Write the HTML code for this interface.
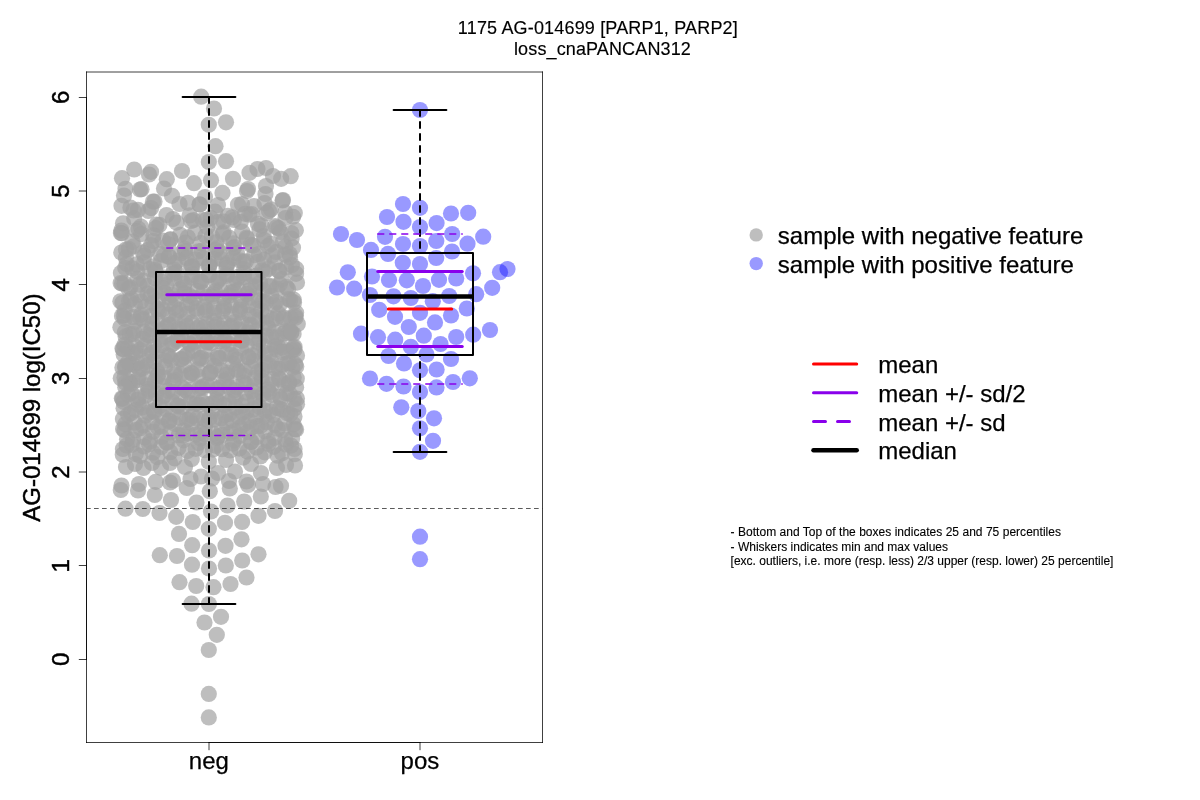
<!DOCTYPE html>
<html lang="en"><head><meta charset="utf-8"><title>1175 AG-014699 [PARP1, PARP2] loss_cnaPANCAN312</title>
<style>html,body{margin:0;padding:0;background:#fff;width:1200px;height:800px;overflow:hidden}svg{display:block}text{font-family:"Liberation Sans",Arial,Helvetica,sans-serif;fill:#000;stroke:#000;stroke-width:0.25px}.t18 text{stroke-width:0.15px}.t12 text{stroke-width:0.12px}.rot{stroke-width:0.45px}.g circle{fill:rgb(161,161,161);fill-opacity:0.69}.b circle{fill:rgb(0,0,255);fill-opacity:0.4}.ln{fill:none;stroke-linecap:round;stroke-linejoin:round}</style></head><body>
<svg width="1200" height="800" viewBox="0 0 1200 800">
<rect width="1200" height="800" fill="#fff"/>
<defs><clipPath id="pc"><rect x="86.4" y="72.0" width="456.0" height="670.4"/></clipPath></defs>
<g class="g">
<circle cx="208.8" cy="717.4" r="8.1"/>
<circle cx="208.8" cy="693.9" r="8.1"/>
<circle cx="208.8" cy="650" r="8.1"/>
<circle cx="216.8" cy="634.8" r="8.1"/>
<circle cx="204.5" cy="622.5" r="8.1"/>
<circle cx="221" cy="616.8" r="8.1"/>
<circle cx="191.5" cy="603.7" r="8.1"/>
<circle cx="208.9" cy="604" r="8.1"/>
<circle cx="179.5" cy="582.2" r="8.1"/>
<circle cx="196.2" cy="586" r="8.1"/>
<circle cx="213.5" cy="587.2" r="8.1"/>
<circle cx="230.5" cy="584" r="8.1"/>
<circle cx="246.5" cy="577.5" r="8.1"/>
<circle cx="192" cy="564.7" r="8.1"/>
<circle cx="209" cy="568.5" r="8.1"/>
<circle cx="225.8" cy="565.5" r="8.1"/>
<circle cx="242.2" cy="560.5" r="8.1"/>
<circle cx="258.5" cy="554.3" r="8.1"/>
<circle cx="159.8" cy="555.2" r="8.1"/>
<circle cx="177" cy="556" r="8.1"/>
<circle cx="192.2" cy="545.2" r="8.1"/>
<circle cx="209" cy="550.5" r="8.1"/>
<circle cx="225.5" cy="545.8" r="8.1"/>
<circle cx="241.5" cy="539.3" r="8.1"/>
<circle cx="179" cy="533.9" r="8.1"/>
<circle cx="208.8" cy="528.8" r="8.1"/>
<circle cx="192.8" cy="522" r="8.1"/>
<circle cx="225" cy="522.8" r="8.1"/>
<circle cx="242.1" cy="521.9" r="8.1"/>
<circle cx="258.5" cy="515.8" r="8.1"/>
<circle cx="275" cy="511" r="8.1"/>
<circle cx="289.2" cy="500.8" r="8.1"/>
<circle cx="260.8" cy="496.5" r="8.1"/>
<circle cx="244.2" cy="501.5" r="8.1"/>
<circle cx="227.5" cy="505.5" r="8.1"/>
<circle cx="211" cy="511.5" r="8.1"/>
<circle cx="196.5" cy="502.5" r="8.1"/>
<circle cx="176.2" cy="516.8" r="8.1"/>
<circle cx="159.5" cy="513" r="8.1"/>
<circle cx="142.8" cy="509" r="8.1"/>
<circle cx="125.5" cy="508.7" r="8.1"/>
<circle cx="171" cy="500" r="8.1"/>
<circle cx="154.8" cy="495" r="8.1"/>
<circle cx="209.8" cy="491.2" r="8.1"/>
<circle cx="121.5" cy="485.5" r="8.1"/>
<circle cx="120.8" cy="490" r="8.1"/>
<circle cx="139" cy="484" r="8.1"/>
<circle cx="138" cy="490.5" r="8.1"/>
<circle cx="155.8" cy="481.8" r="8.1"/>
<circle cx="173" cy="480.5" r="8.1"/>
<circle cx="170" cy="482.5" r="8.1"/>
<circle cx="186.8" cy="488" r="8.1"/>
<circle cx="190.5" cy="479" r="8.1"/>
<circle cx="201" cy="476.5" r="8.1"/>
<circle cx="212" cy="478.5" r="8.1"/>
<circle cx="229.8" cy="488.5" r="8.1"/>
<circle cx="229" cy="481" r="8.1"/>
<circle cx="248" cy="485" r="8.1"/>
<circle cx="246.5" cy="481.5" r="8.1"/>
<circle cx="263" cy="484" r="8.1"/>
<circle cx="281" cy="485.8" r="8.1"/>
<circle cx="275.5" cy="487" r="8.1"/>
<circle cx="126" cy="467" r="8.1"/>
<circle cx="143.5" cy="468" r="8.1"/>
<circle cx="161" cy="467.8" r="8.1"/>
<circle cx="135" cy="464" r="8.1"/>
<circle cx="185" cy="467" r="8.1"/>
<circle cx="170" cy="463" r="8.1"/>
<circle cx="152" cy="463" r="8.1"/>
<circle cx="261" cy="473" r="8.1"/>
<circle cx="235" cy="471.5" r="8.1"/>
<circle cx="218" cy="473" r="8.1"/>
<circle cx="295" cy="465.5" r="8.1"/>
<circle cx="286" cy="465" r="8.1"/>
<circle cx="277" cy="468" r="8.1"/>
<circle cx="251" cy="464" r="8.1"/>
<circle cx="199.42" cy="204.43" r="8.1"/>
<circle cx="253.91" cy="206.08" r="8.1"/>
<circle cx="130.39" cy="207.6" r="8.1"/>
<circle cx="151.12" cy="208.09" r="8.1"/>
<circle cx="270.88" cy="209.36" r="8.1"/>
<circle cx="148.4" cy="211.02" r="8.1"/>
<circle cx="215.09" cy="211.72" r="8.1"/>
<circle cx="285.2" cy="212.36" r="8.1"/>
<circle cx="266.58" cy="213.19" r="8.1"/>
<circle cx="245.08" cy="213.84" r="8.1"/>
<circle cx="249.36" cy="214.65" r="8.1"/>
<circle cx="189.57" cy="215.43" r="8.1"/>
<circle cx="227.9" cy="215.75" r="8.1"/>
<circle cx="293.03" cy="216.77" r="8.1"/>
<circle cx="232.29" cy="217.34" r="8.1"/>
<circle cx="210.77" cy="218" r="8.1"/>
<circle cx="134.2" cy="218.39" r="8.1"/>
<circle cx="172.94" cy="219.05" r="8.1"/>
<circle cx="206.27" cy="219.85" r="8.1"/>
<circle cx="193.61" cy="220.06" r="8.1"/>
<circle cx="191.06" cy="221.12" r="8.1"/>
<circle cx="223.47" cy="221.52" r="8.1"/>
<circle cx="240.74" cy="222.02" r="8.1"/>
<circle cx="176.51" cy="222.53" r="8.1"/>
<circle cx="123.05" cy="223.25" r="8.1"/>
<circle cx="257.93" cy="223.85" r="8.1"/>
<circle cx="156.54" cy="224.5" r="8.1"/>
<circle cx="159.39" cy="224.91" r="8.1"/>
<circle cx="261.59" cy="225.6" r="8.1"/>
<circle cx="275.06" cy="226.13" r="8.1"/>
<circle cx="140.84" cy="226.56" r="8.1"/>
<circle cx="207.26" cy="227.13" r="8.1"/>
<circle cx="276.62" cy="227.35" r="8.1"/>
<circle cx="155.81" cy="228.2" r="8.1"/>
<circle cx="278.65" cy="228.34" r="8.1"/>
<circle cx="138.54" cy="228.96" r="8.1"/>
<circle cx="259.46" cy="229.44" r="8.1"/>
<circle cx="295.83" cy="230.2" r="8.1"/>
<circle cx="121.34" cy="230.55" r="8.1"/>
<circle cx="136.69" cy="231.12" r="8.1"/>
<circle cx="242.19" cy="231.7" r="8.1"/>
<circle cx="280.52" cy="232" r="8.1"/>
<circle cx="223.73" cy="232.35" r="8.1"/>
<circle cx="194.91" cy="232.95" r="8.1"/>
<circle cx="121.78" cy="233.27" r="8.1"/>
<circle cx="222.85" cy="233.91" r="8.1"/>
<circle cx="141.3" cy="234.14" r="8.1"/>
<circle cx="180.15" cy="234.75" r="8.1"/>
<circle cx="153.42" cy="235.42" r="8.1"/>
<circle cx="205.66" cy="235.73" r="8.1"/>
<circle cx="263.76" cy="236.23" r="8.1"/>
<circle cx="211.78" cy="236.68" r="8.1"/>
<circle cx="187.82" cy="237.28" r="8.1"/>
<circle cx="246.53" cy="237.49" r="8.1"/>
<circle cx="229.32" cy="237.82" r="8.1"/>
<circle cx="291.58" cy="238.63" r="8.1"/>
<circle cx="247.03" cy="238.85" r="8.1"/>
<circle cx="170.46" cy="239.23" r="8.1"/>
<circle cx="170.21" cy="239.53" r="8.1"/>
<circle cx="264.25" cy="240.2" r="8.1"/>
<circle cx="162.76" cy="240.62" r="8.1"/>
<circle cx="153.27" cy="241.07" r="8.1"/>
<circle cx="282.88" cy="241.54" r="8.1"/>
<circle cx="132.43" cy="241.65" r="8.1"/>
<circle cx="216.29" cy="242.4" r="8.1"/>
<circle cx="185.49" cy="242.62" r="8.1"/>
<circle cx="200.66" cy="243.17" r="8.1"/>
<circle cx="233.53" cy="243.47" r="8.1"/>
<circle cx="270.82" cy="243.93" r="8.1"/>
<circle cx="168.29" cy="244.27" r="8.1"/>
<circle cx="250.76" cy="244.85" r="8.1"/>
<circle cx="151.04" cy="245.24" r="8.1"/>
<circle cx="253.12" cy="245.51" r="8.1"/>
<circle cx="267.99" cy="246.11" r="8.1"/>
<circle cx="133.79" cy="246.27" r="8.1"/>
<circle cx="285.26" cy="246.86" r="8.1"/>
<circle cx="234.39" cy="247.12" r="8.1"/>
<circle cx="292.97" cy="247.72" r="8.1"/>
<circle cx="232.94" cy="248.16" r="8.1"/>
<circle cx="217.15" cy="248.33" r="8.1"/>
<circle cx="184.68" cy="248.97" r="8.1"/>
<circle cx="128.8" cy="249.06" r="8.1"/>
<circle cx="125.92" cy="249.56" r="8.1"/>
<circle cx="215.77" cy="250.09" r="8.1"/>
<circle cx="147.65" cy="250.21" r="8.1"/>
<circle cx="201.85" cy="250.88" r="8.1"/>
<circle cx="185.22" cy="251.27" r="8.1"/>
<circle cx="198.31" cy="251.36" r="8.1"/>
<circle cx="276.23" cy="252.01" r="8.1"/>
<circle cx="219.34" cy="252.22" r="8.1"/>
<circle cx="142.93" cy="252.62" r="8.1"/>
<circle cx="181.13" cy="253.21" r="8.1"/>
<circle cx="237.1" cy="253.25" r="8.1"/>
<circle cx="259.06" cy="253.95" r="8.1"/>
<circle cx="160.14" cy="254.15" r="8.1"/>
<circle cx="285.13" cy="254.66" r="8.1"/>
<circle cx="254.28" cy="255.04" r="8.1"/>
<circle cx="163.98" cy="255.33" r="8.1"/>
<circle cx="272.16" cy="255.57" r="8.1"/>
<circle cx="144.41" cy="255.9" r="8.1"/>
<circle cx="169.29" cy="256.41" r="8.1"/>
<circle cx="168.69" cy="256.85" r="8.1"/>
<circle cx="289.99" cy="257.28" r="8.1"/>
<circle cx="125.88" cy="257.64" r="8.1"/>
<circle cx="233.35" cy="257.98" r="8.1"/>
<circle cx="186.5" cy="258.04" r="8.1"/>
<circle cx="203.77" cy="258.41" r="8.1"/>
<circle cx="214.11" cy="258.98" r="8.1"/>
<circle cx="221.82" cy="259.25" r="8.1"/>
<circle cx="195.63" cy="259.67" r="8.1"/>
<circle cx="264.2" cy="259.89" r="8.1"/>
<circle cx="239.49" cy="260.34" r="8.1"/>
<circle cx="178.38" cy="260.61" r="8.1"/>
<circle cx="161.1" cy="261.04" r="8.1"/>
<circle cx="246.07" cy="261.29" r="8.1"/>
<circle cx="243.71" cy="261.89" r="8.1"/>
<circle cx="257.54" cy="262.2" r="8.1"/>
<circle cx="143.88" cy="262.49" r="8.1"/>
<circle cx="274.81" cy="262.61" r="8.1"/>
<circle cx="227.77" cy="263.08" r="8.1"/>
<circle cx="174.69" cy="263.47" r="8.1"/>
<circle cx="209.65" cy="263.9" r="8.1"/>
<circle cx="126.67" cy="264.01" r="8.1"/>
<circle cx="136.75" cy="264.4" r="8.1"/>
<circle cx="291.91" cy="265.09" r="8.1"/>
<circle cx="226.74" cy="265.13" r="8.1"/>
<circle cx="191.85" cy="265.52" r="8.1"/>
<circle cx="208.75" cy="265.88" r="8.1"/>
<circle cx="153.92" cy="266.32" r="8.1"/>
<circle cx="209.21" cy="266.52" r="8.1"/>
<circle cx="192.63" cy="266.88" r="8.1"/>
<circle cx="191.12" cy="267.42" r="8.1"/>
<circle cx="286.15" cy="267.51" r="8.1"/>
<circle cx="226.43" cy="267.98" r="8.1"/>
<circle cx="132.46" cy="268.47" r="8.1"/>
<circle cx="268.92" cy="268.83" r="8.1"/>
<circle cx="149.73" cy="269.07" r="8.1"/>
<circle cx="244.08" cy="269.44" r="8.1"/>
<circle cx="173.99" cy="269.73" r="8.1"/>
<circle cx="154.96" cy="270.06" r="8.1"/>
<circle cx="262.04" cy="270.48" r="8.1"/>
<circle cx="278.63" cy="270.67" r="8.1"/>
<circle cx="279.64" cy="271.14" r="8.1"/>
<circle cx="137.23" cy="271.62" r="8.1"/>
<circle cx="264.53" cy="271.99" r="8.1"/>
<circle cx="155.96" cy="272.12" r="8.1"/>
<circle cx="176.25" cy="272.39" r="8.1"/>
<circle cx="120.9" cy="272.94" r="8.1"/>
<circle cx="244.28" cy="273.33" r="8.1"/>
<circle cx="173.17" cy="273.63" r="8.1"/>
<circle cx="296.09" cy="273.78" r="8.1"/>
<circle cx="227.02" cy="274.06" r="8.1"/>
<circle cx="192.11" cy="274.65" r="8.1"/>
<circle cx="209.39" cy="274.75" r="8.1"/>
<circle cx="208.77" cy="275.41" r="8.1"/>
<circle cx="256.77" cy="275.49" r="8.1"/>
<circle cx="226.64" cy="275.84" r="8.1"/>
<circle cx="253.38" cy="276.39" r="8.1"/>
<circle cx="238.41" cy="276.78" r="8.1"/>
<circle cx="243.88" cy="277.05" r="8.1"/>
<circle cx="191.61" cy="277.43" r="8.1"/>
<circle cx="164.69" cy="277.71" r="8.1"/>
<circle cx="154.96" cy="278.1" r="8.1"/>
<circle cx="219.44" cy="278.22" r="8.1"/>
<circle cx="174.38" cy="278.74" r="8.1"/>
<circle cx="137.45" cy="278.91" r="8.1"/>
<circle cx="281.7" cy="279.28" r="8.1"/>
<circle cx="236.44" cy="279.77" r="8.1"/>
<circle cx="181.82" cy="280.02" r="8.1"/>
<circle cx="218.51" cy="280.32" r="8.1"/>
<circle cx="143.81" cy="280.58" r="8.1"/>
<circle cx="199.06" cy="281.22" r="8.1"/>
<circle cx="201.27" cy="281.46" r="8.1"/>
<circle cx="161.52" cy="281.84" r="8.1"/>
<circle cx="200.74" cy="282.13" r="8.1"/>
<circle cx="216.29" cy="282.43" r="8.1"/>
<circle cx="260.15" cy="282.86" r="8.1"/>
<circle cx="120.66" cy="282.99" r="8.1"/>
<circle cx="122.04" cy="283.58" r="8.1"/>
<circle cx="233.53" cy="283.74" r="8.1"/>
<circle cx="184.17" cy="283.96" r="8.1"/>
<circle cx="279.83" cy="284.33" r="8.1"/>
<circle cx="139.28" cy="284.71" r="8.1"/>
<circle cx="166.28" cy="285.2" r="8.1"/>
<circle cx="250.73" cy="285.39" r="8.1"/>
<circle cx="147.8" cy="285.79" r="8.1"/>
<circle cx="270.88" cy="286.11" r="8.1"/>
<circle cx="268.88" cy="286.35" r="8.1"/>
<circle cx="255.58" cy="286.77" r="8.1"/>
<circle cx="286.47" cy="287.02" r="8.1"/>
<circle cx="130.28" cy="287.44" r="8.1"/>
<circle cx="184.27" cy="287.7" r="8.1"/>
<circle cx="162.56" cy="288.13" r="8.1"/>
<circle cx="128.44" cy="288.49" r="8.1"/>
<circle cx="276.58" cy="288.93" r="8.1"/>
<circle cx="288.18" cy="289.14" r="8.1"/>
<circle cx="179.84" cy="289.57" r="8.1"/>
<circle cx="238.59" cy="289.9" r="8.1"/>
<circle cx="220.62" cy="290.11" r="8.1"/>
<circle cx="263.65" cy="290.39" r="8.1"/>
<circle cx="248.94" cy="290.9" r="8.1"/>
<circle cx="197.04" cy="291.21" r="8.1"/>
<circle cx="215.02" cy="291.36" r="8.1"/>
<circle cx="234.13" cy="291.69" r="8.1"/>
<circle cx="154.83" cy="292.24" r="8.1"/>
<circle cx="231.01" cy="292.39" r="8.1"/>
<circle cx="203.54" cy="292.72" r="8.1"/>
<circle cx="164.84" cy="293.15" r="8.1"/>
<circle cx="184.5" cy="293.34" r="8.1"/>
<circle cx="147.57" cy="293.72" r="8.1"/>
<circle cx="246.78" cy="294.13" r="8.1"/>
<circle cx="213.04" cy="294.27" r="8.1"/>
<circle cx="171.93" cy="294.72" r="8.1"/>
<circle cx="137.39" cy="295.03" r="8.1"/>
<circle cx="229.44" cy="295.57" r="8.1"/>
<circle cx="189.31" cy="295.76" r="8.1"/>
<circle cx="271.33" cy="296.03" r="8.1"/>
<circle cx="150.98" cy="296.29" r="8.1"/>
<circle cx="212.21" cy="296.85" r="8.1"/>
<circle cx="206.53" cy="297.22" r="8.1"/>
<circle cx="168.84" cy="297.49" r="8.1"/>
<circle cx="250.33" cy="297.68" r="8.1"/>
<circle cx="194.47" cy="298.14" r="8.1"/>
<circle cx="223.77" cy="298.34" r="8.1"/>
<circle cx="131.08" cy="298.88" r="8.1"/>
<circle cx="288.35" cy="299.06" r="8.1"/>
<circle cx="176.34" cy="299.37" r="8.1"/>
<circle cx="240.99" cy="299.78" r="8.1"/>
<circle cx="290.24" cy="300.01" r="8.1"/>
<circle cx="158.03" cy="300.38" r="8.1"/>
<circle cx="258.93" cy="300.59" r="8.1"/>
<circle cx="129.12" cy="301.01" r="8.1"/>
<circle cx="262.93" cy="301.46" r="8.1"/>
<circle cx="140.79" cy="301.59" r="8.1"/>
<circle cx="276.15" cy="302.03" r="8.1"/>
<circle cx="265.67" cy="302.32" r="8.1"/>
<circle cx="294.03" cy="302.56" r="8.1"/>
<circle cx="122.43" cy="302.84" r="8.1"/>
<circle cx="152.52" cy="303.38" r="8.1"/>
<circle cx="190.87" cy="303.67" r="8.1"/>
<circle cx="169.8" cy="303.82" r="8.1"/>
<circle cx="279.99" cy="304.35" r="8.1"/>
<circle cx="134.79" cy="304.56" r="8.1"/>
<circle cx="273.69" cy="304.97" r="8.1"/>
<circle cx="248.62" cy="305.17" r="8.1"/>
<circle cx="231.35" cy="305.59" r="8.1"/>
<circle cx="186.96" cy="305.84" r="8.1"/>
<circle cx="224.1" cy="306.06" r="8.1"/>
<circle cx="241.22" cy="306.36" r="8.1"/>
<circle cx="204.21" cy="306.94" r="8.1"/>
<circle cx="145.3" cy="307.06" r="8.1"/>
<circle cx="174.58" cy="307.49" r="8.1"/>
<circle cx="214.23" cy="307.94" r="8.1"/>
<circle cx="223.93" cy="308.16" r="8.1"/>
<circle cx="196.3" cy="308.41" r="8.1"/>
<circle cx="256.83" cy="308.78" r="8.1"/>
<circle cx="157.36" cy="308.96" r="8.1"/>
<circle cx="162.42" cy="309.45" r="8.1"/>
<circle cx="239.58" cy="309.84" r="8.1"/>
<circle cx="179.68" cy="310.17" r="8.1"/>
<circle cx="206.79" cy="310.38" r="8.1"/>
<circle cx="124.67" cy="310.75" r="8.1"/>
<circle cx="261.27" cy="311.06" r="8.1"/>
<circle cx="222.38" cy="311.42" r="8.1"/>
<circle cx="158.84" cy="311.69" r="8.1"/>
<circle cx="196.88" cy="311.84" r="8.1"/>
<circle cx="240.21" cy="312.32" r="8.1"/>
<circle cx="205.14" cy="312.62" r="8.1"/>
<circle cx="214.13" cy="312.83" r="8.1"/>
<circle cx="176.3" cy="313.08" r="8.1"/>
<circle cx="278.36" cy="313.62" r="8.1"/>
<circle cx="187.49" cy="313.95" r="8.1"/>
<circle cx="231.35" cy="314.31" r="8.1"/>
<circle cx="141.04" cy="314.63" r="8.1"/>
<circle cx="168.31" cy="314.67" r="8.1"/>
<circle cx="249.08" cy="315.05" r="8.1"/>
<circle cx="123.78" cy="315.5" r="8.1"/>
<circle cx="295.51" cy="315.74" r="8.1"/>
<circle cx="150.98" cy="316.16" r="8.1"/>
<circle cx="266.3" cy="316.53" r="8.1"/>
<circle cx="255.15" cy="316.89" r="8.1"/>
<circle cx="133.22" cy="317.12" r="8.1"/>
<circle cx="283.85" cy="317.5" r="8.1"/>
<circle cx="295.59" cy="317.82" r="8.1"/>
<circle cx="140.32" cy="318.07" r="8.1"/>
<circle cx="290.83" cy="318.15" r="8.1"/>
<circle cx="275.87" cy="318.51" r="8.1"/>
<circle cx="124.79" cy="318.82" r="8.1"/>
<circle cx="283.33" cy="319.33" r="8.1"/>
<circle cx="143.33" cy="319.58" r="8.1"/>
<circle cx="272.29" cy="319.82" r="8.1"/>
<circle cx="157.46" cy="320.27" r="8.1"/>
<circle cx="258.7" cy="320.44" r="8.1"/>
<circle cx="174.73" cy="320.92" r="8.1"/>
<circle cx="214.07" cy="321.13" r="8.1"/>
<circle cx="185.03" cy="321.51" r="8.1"/>
<circle cx="135.36" cy="321.61" r="8.1"/>
<circle cx="234.22" cy="322.16" r="8.1"/>
<circle cx="241.53" cy="322.41" r="8.1"/>
<circle cx="191.93" cy="322.61" r="8.1"/>
<circle cx="224.26" cy="323.01" r="8.1"/>
<circle cx="266.49" cy="323.21" r="8.1"/>
<circle cx="206.87" cy="323.57" r="8.1"/>
<circle cx="152.5" cy="323.8" r="8.1"/>
<circle cx="217.07" cy="324.27" r="8.1"/>
<circle cx="168.04" cy="324.65" r="8.1"/>
<circle cx="249.29" cy="324.87" r="8.1"/>
<circle cx="169.73" cy="325.1" r="8.1"/>
<circle cx="251.44" cy="325.45" r="8.1"/>
<circle cx="232" cy="325.81" r="8.1"/>
<circle cx="186.97" cy="326.22" r="8.1"/>
<circle cx="199.92" cy="326.35" r="8.1"/>
<circle cx="230.37" cy="326.86" r="8.1"/>
<circle cx="214.77" cy="327.17" r="8.1"/>
<circle cx="204.21" cy="327.52" r="8.1"/>
<circle cx="165.54" cy="327.61" r="8.1"/>
<circle cx="197.52" cy="328.13" r="8.1"/>
<circle cx="268.49" cy="328.25" r="8.1"/>
<circle cx="221.5" cy="328.75" r="8.1"/>
<circle cx="178.91" cy="328.95" r="8.1"/>
<circle cx="182.76" cy="329.1" r="8.1"/>
<circle cx="151.44" cy="329.45" r="8.1"/>
<circle cx="239.14" cy="329.73" r="8.1"/>
<circle cx="160.97" cy="330.31" r="8.1"/>
<circle cx="289.4" cy="330.67" r="8.1"/>
<circle cx="256.37" cy="330.95" r="8.1"/>
<circle cx="134.25" cy="331.25" r="8.1"/>
<circle cx="285.49" cy="331.38" r="8.1"/>
<circle cx="143.75" cy="331.85" r="8.1"/>
<circle cx="274.01" cy="331.99" r="8.1"/>
<circle cx="124.82" cy="332.22" r="8.1"/>
<circle cx="248.04" cy="332.63" r="8.1"/>
<circle cx="291.26" cy="333.11" r="8.1"/>
<circle cx="288.08" cy="333.39" r="8.1"/>
<circle cx="283.25" cy="333.68" r="8.1"/>
<circle cx="293.6" cy="334.02" r="8.1"/>
<circle cx="132.75" cy="334.16" r="8.1"/>
<circle cx="129.83" cy="334.57" r="8.1"/>
<circle cx="147.11" cy="334.76" r="8.1"/>
<circle cx="203.78" cy="335.18" r="8.1"/>
<circle cx="150.01" cy="335.52" r="8.1"/>
<circle cx="265.49" cy="335.71" r="8.1"/>
<circle cx="194.97" cy="336.1" r="8.1"/>
<circle cx="125.63" cy="336.39" r="8.1"/>
<circle cx="271.12" cy="336.7" r="8.1"/>
<circle cx="164.26" cy="336.89" r="8.1"/>
<circle cx="276.64" cy="337.34" r="8.1"/>
<circle cx="251.12" cy="337.72" r="8.1"/>
<circle cx="181.5" cy="338.04" r="8.1"/>
<circle cx="233.84" cy="338.17" r="8.1"/>
<circle cx="216.34" cy="338.37" r="8.1"/>
<circle cx="177.93" cy="338.96" r="8.1"/>
<circle cx="142.68" cy="339.16" r="8.1"/>
<circle cx="259.47" cy="339.33" r="8.1"/>
<circle cx="159.96" cy="339.65" r="8.1"/>
<circle cx="224.77" cy="339.98" r="8.1"/>
<circle cx="241.11" cy="340.4" r="8.1"/>
<circle cx="242.24" cy="340.65" r="8.1"/>
<circle cx="177.19" cy="340.93" r="8.1"/>
<circle cx="219.95" cy="341.29" r="8.1"/>
<circle cx="224.33" cy="341.64" r="8.1"/>
<circle cx="207.44" cy="341.91" r="8.1"/>
<circle cx="194.43" cy="342.1" r="8.1"/>
<circle cx="258.24" cy="342.61" r="8.1"/>
<circle cx="207.08" cy="342.7" r="8.1"/>
<circle cx="211.68" cy="343.09" r="8.1"/>
<circle cx="189.28" cy="343.32" r="8.1"/>
<circle cx="172.99" cy="343.69" r="8.1"/>
<circle cx="229.37" cy="344.13" r="8.1"/>
<circle cx="171.36" cy="344.49" r="8.1"/>
<circle cx="190.24" cy="344.68" r="8.1"/>
<circle cx="161.72" cy="344.96" r="8.1"/>
<circle cx="246.6" cy="345.43" r="8.1"/>
<circle cx="277.66" cy="345.71" r="8.1"/>
<circle cx="144.47" cy="345.92" r="8.1"/>
<circle cx="154.18" cy="346.3" r="8.1"/>
<circle cx="263.85" cy="346.52" r="8.1"/>
<circle cx="275.03" cy="346.73" r="8.1"/>
<circle cx="135.85" cy="347.22" r="8.1"/>
<circle cx="281.65" cy="347.53" r="8.1"/>
<circle cx="293.58" cy="347.72" r="8.1"/>
<circle cx="127.35" cy="348.27" r="8.1"/>
<circle cx="240.86" cy="348.35" r="8.1"/>
<circle cx="122.5" cy="348.61" r="8.1"/>
<circle cx="123.17" cy="349.19" r="8.1"/>
<circle cx="276.3" cy="349.5" r="8.1"/>
<circle cx="294.48" cy="349.7" r="8.1"/>
<circle cx="139.72" cy="349.97" r="8.1"/>
<circle cx="291.9" cy="350.45" r="8.1"/>
<circle cx="193.23" cy="350.72" r="8.1"/>
<circle cx="204.52" cy="350.97" r="8.1"/>
<circle cx="156.95" cy="351.35" r="8.1"/>
<circle cx="258.36" cy="351.45" r="8.1"/>
<circle cx="286.82" cy="351.7" r="8.1"/>
<circle cx="282.55" cy="352.16" r="8.1"/>
<circle cx="135.14" cy="352.43" r="8.1"/>
<circle cx="152.42" cy="352.64" r="8.1"/>
<circle cx="265.29" cy="352.97" r="8.1"/>
<circle cx="132.54" cy="353.34" r="8.1"/>
<circle cx="226.3" cy="353.71" r="8.1"/>
<circle cx="187.48" cy="353.86" r="8.1"/>
<circle cx="269.73" cy="354.25" r="8.1"/>
<circle cx="231.1" cy="354.49" r="8.1"/>
<circle cx="149.74" cy="355" r="8.1"/>
<circle cx="252.48" cy="355.39" r="8.1"/>
<circle cx="167.29" cy="355.46" r="8.1"/>
<circle cx="217.76" cy="355.77" r="8.1"/>
<circle cx="169.33" cy="356.18" r="8.1"/>
<circle cx="235.23" cy="356.44" r="8.1"/>
<circle cx="184.53" cy="356.72" r="8.1"/>
<circle cx="248.55" cy="357.24" r="8.1"/>
<circle cx="248.15" cy="357.31" r="8.1"/>
<circle cx="218" cy="357.75" r="8.1"/>
<circle cx="201.77" cy="357.88" r="8.1"/>
<circle cx="199.67" cy="358.31" r="8.1"/>
<circle cx="219.59" cy="358.46" r="8.1"/>
<circle cx="182.06" cy="359.02" r="8.1"/>
<circle cx="180.64" cy="359.39" r="8.1"/>
<circle cx="171.22" cy="359.7" r="8.1"/>
<circle cx="236.82" cy="359.75" r="8.1"/>
<circle cx="197.91" cy="360.17" r="8.1"/>
<circle cx="207.56" cy="360.38" r="8.1"/>
<circle cx="164.86" cy="360.67" r="8.1"/>
<circle cx="254.05" cy="361.04" r="8.1"/>
<circle cx="154.02" cy="361.36" r="8.1"/>
<circle cx="146.09" cy="361.57" r="8.1"/>
<circle cx="271.37" cy="362.08" r="8.1"/>
<circle cx="264.63" cy="362.49" r="8.1"/>
<circle cx="127.89" cy="362.56" r="8.1"/>
<circle cx="136.83" cy="363.09" r="8.1"/>
<circle cx="289.15" cy="363.29" r="8.1"/>
<circle cx="286.8" cy="363.61" r="8.1"/>
<circle cx="233.12" cy="363.8" r="8.1"/>
<circle cx="130.01" cy="364.29" r="8.1"/>
<circle cx="281.77" cy="364.67" r="8.1"/>
<circle cx="132.9" cy="364.9" r="8.1"/>
<circle cx="269.15" cy="365.23" r="8.1"/>
<circle cx="183.93" cy="365.43" r="8.1"/>
<circle cx="147.23" cy="365.66" r="8.1"/>
<circle cx="214.3" cy="366.15" r="8.1"/>
<circle cx="296.27" cy="366.42" r="8.1"/>
<circle cx="164.93" cy="366.67" r="8.1"/>
<circle cx="251.08" cy="367.12" r="8.1"/>
<circle cx="125" cy="367.46" r="8.1"/>
<circle cx="122.41" cy="367.58" r="8.1"/>
<circle cx="292.29" cy="367.94" r="8.1"/>
<circle cx="142.26" cy="368.4" r="8.1"/>
<circle cx="275.03" cy="368.6" r="8.1"/>
<circle cx="279.17" cy="368.88" r="8.1"/>
<circle cx="139.62" cy="369.16" r="8.1"/>
<circle cx="236.47" cy="369.6" r="8.1"/>
<circle cx="197.39" cy="369.68" r="8.1"/>
<circle cx="261.93" cy="370.08" r="8.1"/>
<circle cx="221.5" cy="370.6" r="8.1"/>
<circle cx="156.82" cy="370.76" r="8.1"/>
<circle cx="244.68" cy="371.16" r="8.1"/>
<circle cx="174.09" cy="371.34" r="8.1"/>
<circle cx="210.85" cy="371.61" r="8.1"/>
<circle cx="258.11" cy="372.15" r="8.1"/>
<circle cx="238.7" cy="372.22" r="8.1"/>
<circle cx="227.45" cy="372.51" r="8.1"/>
<circle cx="191.31" cy="372.85" r="8.1"/>
<circle cx="210.09" cy="373.11" r="8.1"/>
<circle cx="209.35" cy="373.4" r="8.1"/>
<circle cx="192.2" cy="373.89" r="8.1"/>
<circle cx="158.51" cy="374.28" r="8.1"/>
<circle cx="180.81" cy="374.55" r="8.1"/>
<circle cx="226.58" cy="374.75" r="8.1"/>
<circle cx="174.95" cy="374.96" r="8.1"/>
<circle cx="189.28" cy="375.41" r="8.1"/>
<circle cx="243.83" cy="375.7" r="8.1"/>
<circle cx="197.6" cy="376" r="8.1"/>
<circle cx="157.39" cy="376.25" r="8.1"/>
<circle cx="261.57" cy="376.6" r="8.1"/>
<circle cx="163.71" cy="377.03" r="8.1"/>
<circle cx="138.61" cy="377.15" r="8.1"/>
<circle cx="278.85" cy="377.66" r="8.1"/>
<circle cx="255.04" cy="377.84" r="8.1"/>
<circle cx="120.77" cy="378.3" r="8.1"/>
<circle cx="146.5" cy="378.68" r="8.1"/>
<circle cx="296.78" cy="378.81" r="8.1"/>
<circle cx="272.27" cy="379.15" r="8.1"/>
<circle cx="279.68" cy="379.36" r="8.1"/>
<circle cx="226.25" cy="379.66" r="8.1"/>
<circle cx="137.62" cy="380.05" r="8.1"/>
<circle cx="174.72" cy="380.26" r="8.1"/>
<circle cx="261.76" cy="380.85" r="8.1"/>
<circle cx="154.86" cy="381.16" r="8.1"/>
<circle cx="223.75" cy="381.3" r="8.1"/>
<circle cx="129.48" cy="381.64" r="8.1"/>
<circle cx="173.19" cy="381.85" r="8.1"/>
<circle cx="289.27" cy="382.24" r="8.1"/>
<circle cx="243.56" cy="382.68" r="8.1"/>
<circle cx="125.33" cy="382.88" r="8.1"/>
<circle cx="132.37" cy="383.18" r="8.1"/>
<circle cx="288.71" cy="383.61" r="8.1"/>
<circle cx="130.07" cy="383.9" r="8.1"/>
<circle cx="284.5" cy="384.21" r="8.1"/>
<circle cx="246.13" cy="384.59" r="8.1"/>
<circle cx="271.46" cy="384.66" r="8.1"/>
<circle cx="206.86" cy="384.95" r="8.1"/>
<circle cx="147.28" cy="385.52" r="8.1"/>
<circle cx="211.82" cy="385.81" r="8.1"/>
<circle cx="254.23" cy="385.89" r="8.1"/>
<circle cx="164.53" cy="386.45" r="8.1"/>
<circle cx="202.38" cy="386.68" r="8.1"/>
<circle cx="236.98" cy="387" r="8.1"/>
<circle cx="229.04" cy="387.27" r="8.1"/>
<circle cx="181.91" cy="387.48" r="8.1"/>
<circle cx="219.46" cy="387.83" r="8.1"/>
<circle cx="199.31" cy="388.17" r="8.1"/>
<circle cx="202.19" cy="388.48" r="8.1"/>
<circle cx="148.64" cy="389" r="8.1"/>
<circle cx="267.97" cy="389.24" r="8.1"/>
<circle cx="216.54" cy="389.4" r="8.1"/>
<circle cx="184.95" cy="389.66" r="8.1"/>
<circle cx="190.36" cy="390.09" r="8.1"/>
<circle cx="234.1" cy="390.33" r="8.1"/>
<circle cx="167.7" cy="390.65" r="8.1"/>
<circle cx="251.92" cy="390.97" r="8.1"/>
<circle cx="148.98" cy="391.34" r="8.1"/>
<circle cx="187.6" cy="391.78" r="8.1"/>
<circle cx="173.18" cy="391.93" r="8.1"/>
<circle cx="269.16" cy="392.12" r="8.1"/>
<circle cx="245.45" cy="392.69" r="8.1"/>
<circle cx="131.16" cy="392.74" r="8.1"/>
<circle cx="286.41" cy="393.2" r="8.1"/>
<circle cx="155.97" cy="393.46" r="8.1"/>
<circle cx="289.62" cy="393.84" r="8.1"/>
<circle cx="262.67" cy="394.14" r="8.1"/>
<circle cx="127.87" cy="394.52" r="8.1"/>
<circle cx="217.7" cy="394.68" r="8.1"/>
<circle cx="272.38" cy="395.02" r="8.1"/>
<circle cx="164.67" cy="395.44" r="8.1"/>
<circle cx="145.49" cy="395.71" r="8.1"/>
<circle cx="233.07" cy="395.92" r="8.1"/>
<circle cx="163.09" cy="396.36" r="8.1"/>
<circle cx="254.46" cy="396.52" r="8.1"/>
<circle cx="279.74" cy="396.85" r="8.1"/>
<circle cx="139.12" cy="397.3" r="8.1"/>
<circle cx="180.33" cy="397.59" r="8.1"/>
<circle cx="235.55" cy="397.99" r="8.1"/>
<circle cx="121.87" cy="398.32" r="8.1"/>
<circle cx="296.93" cy="398.56" r="8.1"/>
<circle cx="122.49" cy="398.97" r="8.1"/>
<circle cx="294.11" cy="399.14" r="8.1"/>
<circle cx="281.02" cy="399.36" r="8.1"/>
<circle cx="216.26" cy="399.88" r="8.1"/>
<circle cx="137.76" cy="399.95" r="8.1"/>
<circle cx="263.77" cy="400.35" r="8.1"/>
<circle cx="255.13" cy="400.81" r="8.1"/>
<circle cx="155.01" cy="400.97" r="8.1"/>
<circle cx="202.01" cy="401.32" r="8.1"/>
<circle cx="246.54" cy="401.68" r="8.1"/>
<circle cx="172.26" cy="401.9" r="8.1"/>
<circle cx="219.25" cy="402.43" r="8.1"/>
<circle cx="229.28" cy="402.47" r="8.1"/>
<circle cx="189.51" cy="403" r="8.1"/>
<circle cx="196.72" cy="403.05" r="8.1"/>
<circle cx="212.03" cy="403.52" r="8.1"/>
<circle cx="206.76" cy="403.99" r="8.1"/>
<circle cx="194.76" cy="404.12" r="8.1"/>
<circle cx="138.86" cy="404.49" r="8.1"/>
<circle cx="199.65" cy="404.67" r="8.1"/>
<circle cx="224.01" cy="404.98" r="8.1"/>
<circle cx="177.52" cy="405.3" r="8.1"/>
<circle cx="241.95" cy="405.73" r="8.1"/>
<circle cx="159.6" cy="405.91" r="8.1"/>
<circle cx="178.08" cy="406.34" r="8.1"/>
<circle cx="259.39" cy="406.66" r="8.1"/>
<circle cx="182.55" cy="407.13" r="8.1"/>
<circle cx="142.37" cy="407.31" r="8.1"/>
<circle cx="235.76" cy="407.54" r="8.1"/>
<circle cx="276.63" cy="407.83" r="8.1"/>
<circle cx="123.57" cy="408.27" r="8.1"/>
<circle cx="294.15" cy="408.65" r="8.1"/>
<circle cx="279.9" cy="408.99" r="8.1"/>
<circle cx="165.38" cy="409.05" r="8.1"/>
<circle cx="252.93" cy="409.47" r="8.1"/>
<circle cx="282.76" cy="409.74" r="8.1"/>
<circle cx="135.47" cy="410.04" r="8.1"/>
<circle cx="264.81" cy="410.56" r="8.1"/>
<circle cx="153.69" cy="410.92" r="8.1"/>
<circle cx="212.06" cy="411.01" r="8.1"/>
<circle cx="270.11" cy="411.27" r="8.1"/>
<circle cx="246.2" cy="411.69" r="8.1"/>
<circle cx="154.35" cy="412.15" r="8.1"/>
<circle cx="242.24" cy="412.32" r="8.1"/>
<circle cx="148.46" cy="412.56" r="8.1"/>
<circle cx="131.18" cy="412.93" r="8.1"/>
<circle cx="287.28" cy="413.26" r="8.1"/>
<circle cx="173.09" cy="413.57" r="8.1"/>
<circle cx="229.08" cy="414.01" r="8.1"/>
<circle cx="290.36" cy="414.36" r="8.1"/>
<circle cx="128.1" cy="414.68" r="8.1"/>
<circle cx="225.15" cy="414.84" r="8.1"/>
<circle cx="273.1" cy="415.23" r="8.1"/>
<circle cx="145.36" cy="415.63" r="8.1"/>
<circle cx="192.48" cy="415.9" r="8.1"/>
<circle cx="264.27" cy="416.34" r="8.1"/>
<circle cx="255.87" cy="416.58" r="8.1"/>
<circle cx="162.59" cy="416.84" r="8.1"/>
<circle cx="238.61" cy="417.26" r="8.1"/>
<circle cx="179.85" cy="417.7" r="8.1"/>
<circle cx="209.65" cy="417.85" r="8.1"/>
<circle cx="221.35" cy="418.21" r="8.1"/>
<circle cx="197.11" cy="418.62" r="8.1"/>
<circle cx="204.09" cy="418.93" r="8.1"/>
<circle cx="189.46" cy="419.08" r="8.1"/>
<circle cx="214.36" cy="419.62" r="8.1"/>
<circle cx="186.83" cy="419.89" r="8.1"/>
<circle cx="232.24" cy="420.17" r="8.1"/>
<circle cx="169.39" cy="420.54" r="8.1"/>
<circle cx="208.89" cy="420.7" r="8.1"/>
<circle cx="249.49" cy="421.28" r="8.1"/>
<circle cx="168.92" cy="421.44" r="8.1"/>
<circle cx="152.17" cy="421.98" r="8.1"/>
<circle cx="266.73" cy="422.34" r="8.1"/>
<circle cx="226.27" cy="422.56" r="8.1"/>
<circle cx="134.48" cy="422.68" r="8.1"/>
<circle cx="284.39" cy="423.27" r="8.1"/>
<circle cx="191.84" cy="423.53" r="8.1"/>
<circle cx="174.57" cy="423.78" r="8.1"/>
<circle cx="125.24" cy="424.22" r="8.1"/>
<circle cx="293.69" cy="424.38" r="8.1"/>
<circle cx="243.41" cy="424.79" r="8.1"/>
<circle cx="274.78" cy="425.07" r="8.1"/>
<circle cx="143.34" cy="425.42" r="8.1"/>
<circle cx="260.66" cy="425.86" r="8.1"/>
<circle cx="257.21" cy="426.07" r="8.1"/>
<circle cx="161.31" cy="426.43" r="8.1"/>
<circle cx="204.95" cy="426.76" r="8.1"/>
<circle cx="157.64" cy="427.25" r="8.1"/>
<circle cx="251.22" cy="427.68" r="8.1"/>
<circle cx="239.94" cy="427.85" r="8.1"/>
<circle cx="140.38" cy="428.17" r="8.1"/>
<circle cx="277.7" cy="428.71" r="8.1"/>
<circle cx="123.12" cy="429.07" r="8.1"/>
<circle cx="294.97" cy="429.26" r="8.1"/>
<circle cx="221.96" cy="429.76" r="8.1"/>
<circle cx="282.27" cy="429.98" r="8.1"/>
<circle cx="135.82" cy="430.21" r="8.1"/>
<circle cx="183.43" cy="430.84" r="8.1"/>
<circle cx="234.28" cy="431.1" r="8.1"/>
<circle cx="265.03" cy="431.24" r="8.1"/>
<circle cx="153.03" cy="431.76" r="8.1"/>
<circle cx="247.77" cy="432.05" r="8.1"/>
<circle cx="170.48" cy="432.34" r="8.1"/>
<circle cx="200.61" cy="432.63" r="8.1"/>
<circle cx="230.52" cy="433.03" r="8.1"/>
<circle cx="187.72" cy="433.39" r="8.1"/>
<circle cx="213.26" cy="433.88" r="8.1"/>
<circle cx="204.98" cy="434.22" r="8.1"/>
<circle cx="196" cy="434.61" r="8.1"/>
<circle cx="222.47" cy="434.88" r="8.1"/>
<circle cx="178.73" cy="435.15" r="8.1"/>
<circle cx="183.15" cy="435.43" r="8.1"/>
<circle cx="239.73" cy="435.84" r="8.1"/>
<circle cx="217.81" cy="436.3" r="8.1"/>
<circle cx="161.52" cy="436.74" r="8.1"/>
<circle cx="256.97" cy="436.9" r="8.1"/>
<circle cx="144.25" cy="437.34" r="8.1"/>
<circle cx="274.44" cy="437.81" r="8.1"/>
<circle cx="217.05" cy="437.95" r="8.1"/>
<circle cx="200.66" cy="438.47" r="8.1"/>
<circle cx="292.1" cy="438.81" r="8.1"/>
<circle cx="127.06" cy="439.13" r="8.1"/>
<circle cx="285.34" cy="439.51" r="8.1"/>
<circle cx="132.96" cy="439.68" r="8.1"/>
<circle cx="234.17" cy="440.31" r="8.1"/>
<circle cx="183.49" cy="440.35" r="8.1"/>
<circle cx="268.13" cy="441.02" r="8.1"/>
<circle cx="150.16" cy="441.3" r="8.1"/>
<circle cx="251.4" cy="441.66" r="8.1"/>
<circle cx="250.63" cy="442.05" r="8.1"/>
<circle cx="166.31" cy="442.28" r="8.1"/>
<circle cx="167.39" cy="442.6" r="8.1"/>
<circle cx="198.65" cy="443.07" r="8.1"/>
<circle cx="232.83" cy="443.61" r="8.1"/>
<circle cx="268.53" cy="443.92" r="8.1"/>
<circle cx="149.15" cy="444.27" r="8.1"/>
<circle cx="285.8" cy="444.62" r="8.1"/>
<circle cx="131.88" cy="444.82" r="8.1"/>
<circle cx="126.66" cy="445.42" r="8.1"/>
<circle cx="291.01" cy="445.57" r="8.1"/>
<circle cx="215.7" cy="445.87" r="8.1"/>
<circle cx="143.91" cy="446.48" r="8.1"/>
<circle cx="273.78" cy="446.81" r="8.1"/>
<circle cx="161.18" cy="447" r="8.1"/>
<circle cx="256.51" cy="447.51" r="8.1"/>
<circle cx="178.43" cy="448.01" r="8.1"/>
<circle cx="239.26" cy="448.53" r="8.1"/>
<circle cx="195.69" cy="448.89" r="8.1"/>
<circle cx="222" cy="449.27" r="8.1"/>
<circle cx="212.95" cy="449.55" r="8.1"/>
<circle cx="204.75" cy="450.23" r="8.1"/>
<circle cx="230.21" cy="450.4" r="8.1"/>
<circle cx="187.48" cy="451.03" r="8.1"/>
<circle cx="247.46" cy="451.41" r="8.1"/>
<circle cx="170.24" cy="452.16" r="8.1"/>
<circle cx="264.72" cy="452.35" r="8.1"/>
<circle cx="152.97" cy="452.72" r="8.1"/>
<circle cx="281.97" cy="453.36" r="8.1"/>
<circle cx="135.75" cy="454.12" r="8.1"/>
<circle cx="294.87" cy="454.12" r="8.1"/>
<circle cx="122.8" cy="454.69" r="8.1"/>
<circle cx="277.66" cy="455.7" r="8.1"/>
<circle cx="140.04" cy="455.78" r="8.1"/>
<circle cx="260.4" cy="456.47" r="8.1"/>
<circle cx="157.28" cy="457.07" r="8.1"/>
<circle cx="243.15" cy="457.63" r="8.1"/>
<circle cx="174.51" cy="458.35" r="8.1"/>
<circle cx="191.77" cy="459.05" r="8.1"/>
<circle cx="226.04" cy="460" r="8.1"/>
<circle cx="208.84" cy="461.73" r="8.1"/>
<circle cx="120.9" cy="233" r="8.1"/>
<circle cx="121.3" cy="252.5" r="8.1"/>
<circle cx="125.3" cy="268" r="8.1"/>
<circle cx="124.5" cy="283.4" r="8.1"/>
<circle cx="120.4" cy="301.3" r="8.1"/>
<circle cx="122" cy="316" r="8.1"/>
<circle cx="120.4" cy="327.3" r="8.1"/>
<circle cx="124.5" cy="345" r="8.1"/>
<circle cx="123.7" cy="354.6" r="8.1"/>
<circle cx="125.3" cy="366" r="8.1"/>
<circle cx="124.5" cy="377.4" r="8.1"/>
<circle cx="125.3" cy="387.2" r="8.1"/>
<circle cx="123.7" cy="401.8" r="8.1"/>
<circle cx="122.9" cy="418.9" r="8.1"/>
<circle cx="124.5" cy="430.2" r="8.1"/>
<circle cx="122.9" cy="449" r="8.1"/>
<circle cx="291.3" cy="233" r="8.1"/>
<circle cx="289.6" cy="254" r="8.1"/>
<circle cx="296.1" cy="268.8" r="8.1"/>
<circle cx="297" cy="282.6" r="8.1"/>
<circle cx="293.7" cy="299.7" r="8.1"/>
<circle cx="296.1" cy="312.7" r="8.1"/>
<circle cx="297.8" cy="324" r="8.1"/>
<circle cx="291.3" cy="332" r="8.1"/>
<circle cx="294.5" cy="346.8" r="8.1"/>
<circle cx="297" cy="355.4" r="8.1"/>
<circle cx="295.3" cy="364.4" r="8.1"/>
<circle cx="293.7" cy="377.4" r="8.1"/>
<circle cx="296.1" cy="387.2" r="8.1"/>
<circle cx="297" cy="404.2" r="8.1"/>
<circle cx="294.5" cy="416.4" r="8.1"/>
<circle cx="296.1" cy="429.4" r="8.1"/>
<circle cx="294.5" cy="449" r="8.1"/>
<circle cx="201.2" cy="96.7" r="8.1"/>
<circle cx="214" cy="108.5" r="8.1"/>
<circle cx="208.8" cy="124.8" r="8.1"/>
<circle cx="226" cy="122.3" r="8.1"/>
<circle cx="215.5" cy="146.2" r="8.1"/>
<circle cx="208.8" cy="162" r="8.1"/>
<circle cx="226" cy="161.2" r="8.1"/>
<circle cx="134.2" cy="169.5" r="8.1"/>
<circle cx="151" cy="171.8" r="8.1"/>
<circle cx="149" cy="174.5" r="8.1"/>
<circle cx="122" cy="178.2" r="8.1"/>
<circle cx="166.8" cy="179.2" r="8.1"/>
<circle cx="182" cy="171" r="8.1"/>
<circle cx="194" cy="183.2" r="8.1"/>
<circle cx="211" cy="180.2" r="8.1"/>
<circle cx="233" cy="178.8" r="8.1"/>
<circle cx="249.5" cy="172.8" r="8.1"/>
<circle cx="257.5" cy="169" r="8.1"/>
<circle cx="266" cy="168" r="8.1"/>
<circle cx="273" cy="176" r="8.1"/>
<circle cx="281.2" cy="178.8" r="8.1"/>
<circle cx="290.7" cy="176.2" r="8.1"/>
<circle cx="125.5" cy="188.8" r="8.1"/>
<circle cx="141.5" cy="189.2" r="8.1"/>
<circle cx="140" cy="189.5" r="8.1"/>
<circle cx="164" cy="188.5" r="8.1"/>
<circle cx="124" cy="195.5" r="8.1"/>
<circle cx="172" cy="195.8" r="8.1"/>
<circle cx="154.5" cy="201.5" r="8.1"/>
<circle cx="153" cy="201.5" r="8.1"/>
<circle cx="121.5" cy="205.8" r="8.1"/>
<circle cx="205" cy="197" r="8.1"/>
<circle cx="222.5" cy="192.9" r="8.1"/>
<circle cx="188" cy="202.8" r="8.1"/>
<circle cx="179.5" cy="204" r="8.1"/>
<circle cx="200" cy="204.5" r="8.1"/>
<circle cx="138" cy="209.8" r="8.1"/>
<circle cx="133.5" cy="210.5" r="8.1"/>
<circle cx="166.5" cy="215" r="8.1"/>
<circle cx="248" cy="189" r="8.1"/>
<circle cx="247" cy="191" r="8.1"/>
<circle cx="266" cy="186" r="8.1"/>
<circle cx="265.5" cy="194" r="8.1"/>
<circle cx="264.5" cy="203" r="8.1"/>
<circle cx="283" cy="200" r="8.1"/>
<circle cx="282.5" cy="200.5" r="8.1"/>
<circle cx="238" cy="204.8" r="8.1"/>
<circle cx="242" cy="204" r="8.1"/>
<circle cx="218" cy="205" r="8.1"/>
<circle cx="251.5" cy="214" r="8.1"/>
<circle cx="269" cy="211" r="8.1"/>
<circle cx="294.8" cy="213" r="8.1"/>
<circle cx="285.5" cy="218" r="8.1"/>
<circle cx="234" cy="220" r="8.1"/>
<circle cx="218" cy="222" r="8.1"/>
<circle cx="203" cy="220" r="8.1"/>
</g>
<g class="b">
<circle cx="420" cy="110" r="8.1"/>
<circle cx="403" cy="204" r="8.1"/>
<circle cx="420" cy="207.8" r="8.1"/>
<circle cx="387" cy="217" r="8.1"/>
<circle cx="403.5" cy="221.8" r="8.1"/>
<circle cx="420" cy="227" r="8.1"/>
<circle cx="436.6" cy="223.1" r="8.1"/>
<circle cx="451" cy="213.5" r="8.1"/>
<circle cx="468.2" cy="212.8" r="8.1"/>
<circle cx="341" cy="234" r="8.1"/>
<circle cx="357" cy="240" r="8.1"/>
<circle cx="385" cy="236.8" r="8.1"/>
<circle cx="403" cy="244" r="8.1"/>
<circle cx="420" cy="246" r="8.1"/>
<circle cx="436.3" cy="241" r="8.1"/>
<circle cx="452.2" cy="234" r="8.1"/>
<circle cx="483.2" cy="236.7" r="8.1"/>
<circle cx="467.5" cy="243.7" r="8.1"/>
<circle cx="371" cy="249.9" r="8.1"/>
<circle cx="388" cy="253.9" r="8.1"/>
<circle cx="452" cy="251.5" r="8.1"/>
<circle cx="436.2" cy="258" r="8.1"/>
<circle cx="402.8" cy="262.8" r="8.1"/>
<circle cx="420" cy="264" r="8.1"/>
<circle cx="347.8" cy="272.3" r="8.1"/>
<circle cx="372" cy="276.5" r="8.1"/>
<circle cx="389" cy="280" r="8.1"/>
<circle cx="406.8" cy="280.3" r="8.1"/>
<circle cx="423" cy="286" r="8.1"/>
<circle cx="439" cy="279.8" r="8.1"/>
<circle cx="456.2" cy="278.5" r="8.1"/>
<circle cx="473" cy="273.3" r="8.1"/>
<circle cx="507.5" cy="269" r="8.1"/>
<circle cx="500" cy="272.2" r="8.1"/>
<circle cx="337" cy="287.5" r="8.1"/>
<circle cx="354.2" cy="288.7" r="8.1"/>
<circle cx="370" cy="295" r="8.1"/>
<circle cx="393.5" cy="296.3" r="8.1"/>
<circle cx="410.8" cy="298" r="8.1"/>
<circle cx="432.8" cy="301.2" r="8.1"/>
<circle cx="449.2" cy="296" r="8.1"/>
<circle cx="476.2" cy="294.2" r="8.1"/>
<circle cx="492.2" cy="287.8" r="8.1"/>
<circle cx="379.2" cy="309.8" r="8.1"/>
<circle cx="395" cy="316.8" r="8.1"/>
<circle cx="420" cy="312.8" r="8.1"/>
<circle cx="435" cy="322.4" r="8.1"/>
<circle cx="451" cy="315.5" r="8.1"/>
<circle cx="466.8" cy="308.5" r="8.1"/>
<circle cx="408.8" cy="327" r="8.1"/>
<circle cx="361" cy="333.7" r="8.1"/>
<circle cx="378" cy="337.2" r="8.1"/>
<circle cx="395.2" cy="339.7" r="8.1"/>
<circle cx="423.8" cy="335.7" r="8.1"/>
<circle cx="410.8" cy="346.8" r="8.1"/>
<circle cx="440.5" cy="344" r="8.1"/>
<circle cx="456.2" cy="337" r="8.1"/>
<circle cx="473.2" cy="334.7" r="8.1"/>
<circle cx="490" cy="330" r="8.1"/>
<circle cx="388.5" cy="356" r="8.1"/>
<circle cx="426.5" cy="354.5" r="8.1"/>
<circle cx="451" cy="359" r="8.1"/>
<circle cx="404" cy="363.5" r="8.1"/>
<circle cx="420" cy="370.3" r="8.1"/>
<circle cx="436.6" cy="369.5" r="8.1"/>
<circle cx="370" cy="378.5" r="8.1"/>
<circle cx="386.5" cy="383.8" r="8.1"/>
<circle cx="403.5" cy="386.5" r="8.1"/>
<circle cx="420" cy="392" r="8.1"/>
<circle cx="436.5" cy="387.4" r="8.1"/>
<circle cx="453" cy="382" r="8.1"/>
<circle cx="469.8" cy="378.3" r="8.1"/>
<circle cx="401.3" cy="407.3" r="8.1"/>
<circle cx="418.3" cy="411" r="8.1"/>
<circle cx="434" cy="418.3" r="8.1"/>
<circle cx="420" cy="428.3" r="8.1"/>
<circle cx="433" cy="440.8" r="8.1"/>
<circle cx="420" cy="451.8" r="8.1"/>
<circle cx="420" cy="536.7" r="8.1"/>
<circle cx="420" cy="559.2" r="8.1"/>
</g>
<g class="ln" stroke="#000" stroke-width="2"><line x1="209" y1="97" x2="209" y2="272" stroke-dasharray="6 6"/><line x1="209" y1="604" x2="209" y2="407" stroke-dasharray="6 6"/><line x1="182.61" y1="97" x2="235.39" y2="97"/><line x1="182.61" y1="604" x2="235.39" y2="604"/><line x1="156" y1="332" x2="261.5" y2="332" stroke-width="4.5" stroke-linecap="butt"/><rect x="156" y="272" width="105.5" height="135"/></g><g class="ln" stroke="#8900eb"><line x1="166.78" y1="294.77" x2="251.22" y2="294.77" stroke-width="3"/><line x1="166.78" y1="388.52" x2="251.22" y2="388.52" stroke-width="3"/><line x1="166.78" y1="247.9" x2="251.22" y2="247.9" stroke-width="1.5" stroke-dasharray="6 6"/><line x1="166.78" y1="435.4" x2="251.22" y2="435.4" stroke-width="1.5" stroke-dasharray="6 6"/></g><line class="ln" x1="177.33" y1="341.65" x2="240.67" y2="341.65" stroke="#ff0000" stroke-width="3"/>
<g class="ln" stroke="#000" stroke-width="2"><line x1="420" y1="110" x2="420" y2="253" stroke-dasharray="6 6"/><line x1="420" y1="452" x2="420" y2="355" stroke-dasharray="6 6"/><line x1="393.61" y1="110" x2="446.39" y2="110"/><line x1="393.61" y1="452" x2="446.39" y2="452"/><line x1="367" y1="296.5" x2="473" y2="296.5" stroke-width="4.5" stroke-linecap="butt"/><rect x="367" y="253" width="106" height="102"/></g><g class="ln" stroke="#8900eb"><line x1="377.78" y1="271.5" x2="462.22" y2="271.5" stroke-width="3"/><line x1="377.78" y1="346.5" x2="462.22" y2="346.5" stroke-width="3"/><line x1="377.78" y1="234" x2="462.22" y2="234" stroke-width="1.5" stroke-dasharray="6 6"/><line x1="377.78" y1="384" x2="462.22" y2="384" stroke-width="1.5" stroke-dasharray="6 6"/></g><line class="ln" x1="388.33" y1="309" x2="451.67" y2="309" stroke="#ff0000" stroke-width="3"/>
<line class="ln" x1="86.4" y1="508.5" x2="542.4" y2="508.5" stroke="#000" stroke-width="0.65" stroke-dasharray="3.9 4.1" clip-path="url(#pc)"/>
<g fill="none" stroke="#000" stroke-width="0.75" stroke-linecap="square">
<line x1="86.5" y1="72.0" x2="542.5" y2="72.0"/>
<line x1="86.5" y1="742.5" x2="542.5" y2="742.5"/>
<line x1="86.5" y1="72.0" x2="86.5" y2="742.5"/>
<line x1="542.5" y1="72.0" x2="542.5" y2="742.5"/>
<line x1="86.5" y1="659.5" x2="86.5" y2="97.5"/>
<line x1="86.5" y1="659.5" x2="79.3" y2="659.5"/>
<line x1="86.5" y1="565.5" x2="79.3" y2="565.5"/>
<line x1="86.5" y1="472.0" x2="79.3" y2="472.0"/>
<line x1="86.5" y1="378.5" x2="79.3" y2="378.5"/>
<line x1="86.5" y1="284.5" x2="79.3" y2="284.5"/>
<line x1="86.5" y1="191.0" x2="79.3" y2="191.0"/>
<line x1="86.5" y1="97.5" x2="79.3" y2="97.5"/>
<line x1="209" y1="742.5" x2="420" y2="742.5"/>
<line x1="209" y1="742.5" x2="209" y2="749.7"/>
<line x1="420" y1="742.5" x2="420" y2="749.7"/>
</g>
<g font-size="24" text-anchor="middle">
<text class="rot" transform="translate(69 659.4) rotate(-90)">0</text>
<text class="rot" transform="translate(69 565.73) rotate(-90)">1</text>
<text class="rot" transform="translate(69 472.06) rotate(-90)">2</text>
<text class="rot" transform="translate(69 378.39) rotate(-90)">3</text>
<text class="rot" transform="translate(69 284.72) rotate(-90)">4</text>
<text class="rot" transform="translate(69 191.05) rotate(-90)">5</text>
<text class="rot" transform="translate(69 97.38) rotate(-90)">6</text>
<text x="208.84" y="768.9">neg</text>
<text x="419.96" y="768.9">pos</text>
<text class="rot" transform="translate(40.1 407.6) rotate(-90)">AG-014699 log(IC50)</text>
</g>
<g class="t18" font-size="18" text-anchor="middle">
<text x="597.8" y="33.8" textLength="279.9" lengthAdjust="spacing">1175 AG-014699 [PARP1, PARP2]</text>
<text x="602.4" y="54.8" textLength="176.8" lengthAdjust="spacing">loss_cnaPANCAN312</text>
</g>
<circle cx="756.2" cy="234.9" r="6.7" fill="rgb(161,161,161)" fill-opacity="0.69"/>
<circle cx="756.2" cy="263.6" r="6.7" fill="rgb(0,0,255)" fill-opacity="0.4"/>
<g font-size="24">
<text x="777.8" y="243.7">sample with negative feature</text>
<text x="777.8" y="272.5">sample with positive feature</text>
<text x="878.2" y="372.8">mean</text>
<text x="878.2" y="401.6">mean +/- sd/2</text>
<text x="878.2" y="430.8">mean +/- sd</text>
<text x="878.2" y="459.1">median</text>
</g>
<g class="ln">
<line x1="813.5" y1="364" x2="856.7" y2="364" stroke="#ff0000" stroke-width="3"/>
<line x1="813.5" y1="392.8" x2="856.7" y2="392.8" stroke="#8900eb" stroke-width="3"/>
<line x1="813.5" y1="421.5" x2="856.7" y2="421.5" stroke="#8900eb" stroke-width="3" stroke-dasharray="12 12"/>
<line x1="813.5" y1="450.3" x2="856.7" y2="450.3" stroke="#000" stroke-width="4.5"/>
</g>
<g class="t12" font-size="12">
<text x="730.6" y="535.8" textLength="330.4" lengthAdjust="spacing">- Bottom and Top of the boxes indicates 25 and 75 percentiles</text>
<text x="730.6" y="550.6">- Whiskers indicates min and max values</text>
<text x="730.6" y="565">[exc. outliers, i.e. more (resp. less) 2/3 upper (resp. lower) 25 percentile]</text>
</g>
</svg></body></html>
